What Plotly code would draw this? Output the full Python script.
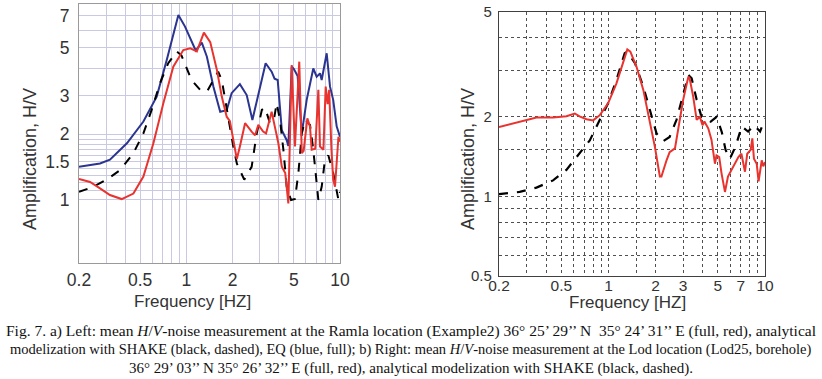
import plotly.graph_objects as go

# ---------------- data: left panel (Ramla) ----------------
left_eq_f = [0.2, 0.274, 0.318, 0.41, 0.525, 0.641, 0.745, 0.887, 0.98, 1.11, 1.15, 1.26, 1.36, 1.50, 1.66,
             1.83, 1.97, 2.23, 2.47, 2.69, 2.94, 3.28, 3.59, 3.75, 3.93, 4.18, 4.5, 4.61, 4.85, 5.0, 5.3, 5.64,
             6.07, 6.7, 7.05, 7.41, 7.6, 8.19, 8.61, 9.03, 9.52, 10]
left_eq_v = [1.42, 1.47, 1.53, 1.82, 2.29, 2.98, 4.39, 7.06, 6.24, 5.05, 4.85, 5.27, 4.54, 3.31, 2.54,
             2.58, 3.09, 3.40, 3.03, 2.33, 3.09, 4.24, 3.88, 3.6, 3.55, 2.09, 1.88, 1.77, 4.09, 4.0, 3.7, 2.02,
             2.88, 4.01, 3.68, 3.81, 3.55, 4.71, 3.31, 2.88, 2.17, 1.95]

left_hv_f = [0.2, 0.236, 0.274, 0.318, 0.379, 0.452, 0.525, 0.61, 0.708, 0.822, 0.955, 1.06, 1.17, 1.30, 1.43,
             1.58, 1.70, 1.83, 1.92, 2.02, 2.13, 2.23, 2.41, 2.66, 2.8, 2.94, 3.16, 3.3, 3.59, 3.75, 3.97,
             4.18, 4.4, 4.61, 4.85, 5.09, 5.43, 5.64, 5.8, 6.13, 6.38, 6.54, 6.9, 7.23, 7.41, 7.8, 8.07, 8.3,
             8.5, 8.8, 9.03, 9.28, 9.77, 10]
left_hv_v = [1.25, 1.21, 1.13, 1.054, 1.01, 1.07, 1.28, 1.82, 2.78, 4.09, 4.87, 4.96, 4.8, 5.86, 5.3,
             3.95, 2.98, 2.41, 2.3, 1.88, 1.54, 1.76, 2.25, 2.06, 1.98, 2.21, 2.06, 2.02, 2.54, 2.2, 1.82,
             1.42, 1.33, 0.965, 4.16, 1.76, 4.31, 1.64, 1.68, 2.37, 2.17, 1.70, 1.72, 3.2, 1.76, 1.7, 3.31, 2.75,
             3.2, 1.7, 1.24, 1.15, 1.95, 1.85]

left_shake_f = [0.2, 0.248, 0.303, 0.37, 0.452, 0.525, 0.594, 0.673, 0.762, 0.865, 0.93, 1.0, 1.08, 1.23,
                1.36, 1.46, 1.61, 1.70, 1.83, 1.92, 2.02, 2.13, 2.38, 2.66, 2.87, 3.1, 3.25, 3.5, 3.7, 3.87,
                4.07, 4.28, 4.5, 4.8, 5.09, 5.36, 5.64, 5.92, 6.38, 6.7, 7.23, 7.6, 7.98, 8.4, 9.03, 9.77, 10]
left_shake_v = [1.09, 1.15, 1.24, 1.37, 1.64, 2.02, 2.59, 3.43, 4.24, 4.8, 4.6, 4.09, 3.55, 3.2,
                3.14, 3.43, 3.88, 3.55, 2.59, 2.09, 1.76, 1.47, 1.24, 1.42, 2.02, 2.59, 2.65, 2.25, 2.3, 2.78,
                2.33, 1.70, 1.15, 1.0, 1.01, 1.33, 2.02, 2.33, 2.21, 1.70, 1.0, 1.15, 1.53, 1.6, 1.33, 1.0, 1.09]

# ---------------- data: right panel (Lod) ----------------
right_hv_f = [0.2, 0.271, 0.347, 0.443, 0.539, 0.61, 0.654, 0.724, 0.798, 0.881, 0.995, 1.125, 1.24, 1.32,
              1.38, 1.51, 1.67, 1.84, 1.98, 2.13, 2.18, 2.35, 2.46, 2.66, 2.79, 3.0, 3.24, 3.3, 3.48, 3.66,
              3.84, 3.99, 4.1, 4.34, 4.55, 4.79, 4.9, 5.1, 5.28, 5.55, 5.8, 6.13, 6.4, 6.76, 7.07, 7.45, 7.7,
              8.1, 8.3, 8.5, 8.85, 9.1, 9.53, 9.75, 10]
right_hv_v = [1.83, 1.92, 1.99, 1.99, 2.01, 2.06, 2.01, 1.96, 1.94, 2.03, 2.25, 2.68, 3.19, 3.60,
              3.53, 3.10, 2.53, 1.89, 1.54, 1.19, 1.19, 1.37, 1.47, 1.52, 1.78, 2.32, 2.84, 2.8, 2.38, 1.95,
              2.0, 1.86, 1.92, 1.81, 1.64, 1.33, 1.43, 1.41, 1.22, 1.04, 1.19, 1.26, 1.33, 1.41, 1.45, 1.24, 1.45,
              1.5, 1.66, 1.39, 1.33, 1.14, 1.37, 1.30, 1.35]

right_shake_f = [0.2, 0.271, 0.347, 0.443, 0.539, 0.656, 0.76, 0.881, 0.995, 1.125, 1.27, 1.32, 1.48, 1.67,
                 1.84, 2.03, 2.24, 2.46, 2.72, 3.0, 3.24, 3.4, 3.66, 3.93, 4.2, 4.5, 4.91, 5.3, 5.6, 5.97,
                 6.5, 7.1, 7.8, 8.5, 9.3, 10]
right_shake_v = [1.02, 1.04, 1.08, 1.15, 1.26, 1.46, 1.63, 1.95, 2.25, 2.76, 3.48, 3.53, 3.19, 2.60,
                 2.12, 1.73, 1.62, 1.68, 1.95, 2.45, 2.88, 2.8, 2.32, 2.0, 1.98, 1.92, 2.0, 1.75, 1.5, 1.39,
                 1.55, 1.84, 1.76, 1.86, 1.76, 1.97]

# ---------------- ticks ----------------
left_x_tickvals = [0.2, 0.3, 0.4, 0.5, 0.6, 0.7, 0.8, 0.9, 1, 2, 3, 4, 5, 6, 7, 8, 9, 10]
left_x_ticktext = ["0.2", "", "", "0.5", "", "", "", "", "1", "2", "", "", "5", "", "", "", "", "10"]
left_y_tickvals = [1, 1.1, 1.2, 1.3, 1.4, 1.5, 1.6, 1.7, 1.8, 1.9, 2, 3, 4, 5, 6, 7]
left_y_ticktext = ["1", "", "", "", "", "1.5", "", "", "", "", "2", "3", "", "5", "", "7"]

right_x_tickvals = [0.2, 0.3, 0.4, 0.5, 0.6, 0.7, 0.8, 0.9, 1, 1.5, 2, 3, 4, 5, 6, 7, 8, 9, 10]
right_x_ticktext = ["0.2", "", "", "0.5", "", "", "", "", "1", "", "2", "3", "", "5", "", "7", "", "", "10"]
right_y_tickvals = [0.5, 0.6, 0.7, 0.8, 0.9, 1, 1.5, 2, 3, 4, 5]
right_y_ticktext = ["0.5", "", "", "", "", "1", "", "2", "", "", "5"]

caption_lines = [
    "Fig. 7. a) Left: mean <i>H</i>/<i>V</i>-noise measurement at the Ramla location (Example2) 36° 25’ 29’’ N  35° 24’ 31’’ E (full, red), analytical",
    "modelization with SHAKE (black, dashed), EQ (blue, full); b) Right: mean <i>H</i>/<i>V</i>-noise measurement at the Lod location (Lod25, borehole)",
    "36° 29’ 03’’ N 35° 26’ 32’’ E (full, red), analytical modelization with SHAKE (black, dashed).",
]

W, H = 822, 379
BLUE = "#2b3590"
RED = "#e8332e"
SANS = "Liberation Sans, Arial, sans-serif"
SERIF = "Liberation Serif, Times New Roman, serif"

fig = go.Figure()
fig.add_trace(go.Scatter(x=left_eq_f, y=left_eq_v, mode="lines", line=dict(color=BLUE, width=2),
                         xaxis="x", yaxis="y", showlegend=False))
fig.add_trace(go.Scatter(x=left_shake_f, y=left_shake_v, mode="lines",
                         line=dict(color="black", width=2, dash="dash"),
                         xaxis="x", yaxis="y", showlegend=False))
fig.add_trace(go.Scatter(x=left_hv_f, y=left_hv_v, mode="lines", line=dict(color=RED, width=2),
                         xaxis="x", yaxis="y", showlegend=False))
fig.add_trace(go.Scatter(x=right_shake_f, y=right_shake_v, mode="lines",
                         line=dict(color="black", width=2.2, dash="dash"),
                         xaxis="x2", yaxis="y2", showlegend=False))
fig.add_trace(go.Scatter(x=right_hv_f, y=right_hv_v, mode="lines", line=dict(color=RED, width=2),
                         xaxis="x2", yaxis="y2", showlegend=False))

def px_x(p):
    return p / W

def px_y(p):
    return 1 - p / H

LGRID = "#c9c9e2"
fig.update_layout(
    width=W, height=H,
    margin=dict(l=0, r=0, t=0, b=0, autoexpand=False),
    paper_bgcolor="white", plot_bgcolor="white",
    xaxis=dict(type="log", domain=[px_x(79), px_x(340)], range=[-0.699, 1.0], anchor="y",
               automargin=False,
               tickmode="array", tickvals=left_x_tickvals, ticktext=left_x_ticktext,
               showgrid=True, gridcolor=LGRID, gridwidth=1, zeroline=False,
               showline=True, linecolor="#9a9a9a", linewidth=1, mirror=True,
               ticks="", ticklabelstandoff=1,
               tickfont=dict(family=SANS, size=17.5, color="#333333")),
    yaxis=dict(type="log", domain=[px_y(263), px_y(4)], range=[-0.289, 0.899], anchor="x",
               automargin=False,
               tickmode="array", tickvals=left_y_tickvals, ticktext=left_y_ticktext,
               showgrid=True, gridcolor=LGRID, gridwidth=1, zeroline=False,
               showline=True, linecolor="#9a9a9a", linewidth=1, mirror=True,
               ticks="", ticklabelstandoff=5,
               tickfont=dict(family=SANS, size=17.5, color="#333333")),
    xaxis2=dict(type="log", domain=[px_x(499), px_x(765)], range=[-0.699, 1.0], anchor="y2",
                automargin=False,
                tickmode="array", tickvals=right_x_tickvals, ticktext=right_x_ticktext,
                showgrid=True, gridcolor="#505050", gridwidth=1, griddash="dot", zeroline=False,
                showline=True, linecolor="#404040", linewidth=1.2, mirror=True,
                ticks="", ticklabelstandoff=-5,
                tickfont=dict(family=SANS, size=15.5, color="#333333")),
    yaxis2=dict(type="log", domain=[px_y(276), px_y(11.7)], range=[-0.301, 0.699], anchor="x2",
                automargin=False,
                tickmode="array", tickvals=right_y_tickvals, ticktext=right_y_ticktext,
                showgrid=True, gridcolor="#505050", gridwidth=1, griddash="dot", zeroline=False,
                showline=True, linecolor="#404040", linewidth=1.2, mirror=True,
                ticks="", ticklabelstandoff=3,
                tickfont=dict(family=SANS, size=15, color="#333333")),
)

ann = []
ann.append(dict(x=px_x(30), y=px_y(159), xref="paper", yref="paper", text="Amplification, H/V",
                textangle=-90, showarrow=False, font=dict(family=SANS, size=18, color="#333333"),
                xanchor="center", yanchor="middle"))
ann.append(dict(x=px_x(468), y=px_y(159), xref="paper", yref="paper", text="Amplification, H/V",
                textangle=-90, showarrow=False, font=dict(family=SANS, size=18, color="#333333"),
                xanchor="center", yanchor="middle"))
ann.append(dict(x=px_x(192), y=px_y(301), xref="paper", yref="paper", text="Frequency [HZ]",
                showarrow=False, font=dict(family=SANS, size=17, color="#333333"),
                xanchor="center", yanchor="middle"))
ann.append(dict(x=px_x(627), y=px_y(302), xref="paper", yref="paper", text="Frequency [HZ]",
                showarrow=False, font=dict(family=SANS, size=17, color="#333333"),
                xanchor="center", yanchor="middle"))
for line, yy, fs in zip(caption_lines, [331, 349.5, 368], [15.5, 14.5, 15]):
    ann.append(dict(x=px_x(411), y=px_y(yy), xref="paper", yref="paper", text=line, showarrow=False,
                    font=dict(family=SERIF, size=fs, color="#111111"),
                    xanchor="center", yanchor="middle"))
fig.update_layout(annotations=ann)

# remove the default 8 px page margin so the figure fills the 822x379 window exactly
fig.write_html("out.html",
               config={"displayModeBar": False},
               post_script="document.body.style.margin='0px';document.body.style.overflow='hidden';")
